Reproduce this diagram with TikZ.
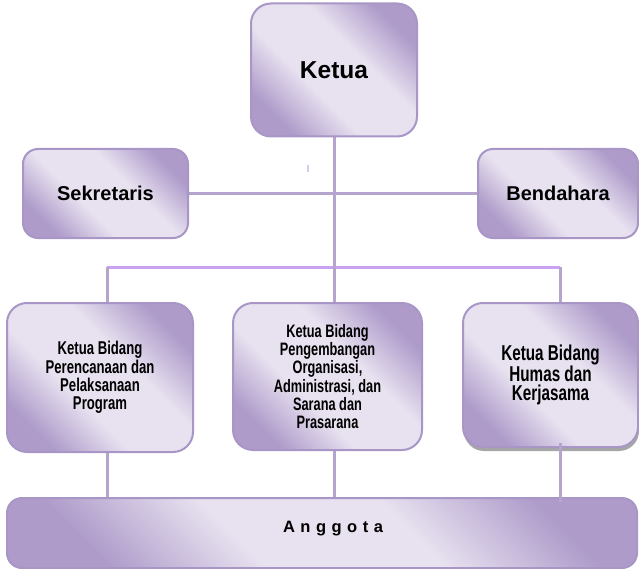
\documentclass[tikz,border=0pt]{standalone}
\usepackage{fontspec}
\setmainfont{Liberation Sans}
\newfontfamily\narrowfont[FakeStretch=0.71]{Liberation Sans}
\usepackage{tikz}
\usetikzlibrary{calc, backgrounds, shadows}
\usepackage{xcolor}
\definecolor{org-dark}{HTML}{AE9BCA}
\definecolor{org-light}{HTML}{E8E2F0}
\definecolor{org-border}{HTML}{A896C6}
\definecolor{org-link}{HTML}{B4A4CE}
\definecolor{org-bar}{HTML}{C9A3F2}
\definecolor{org-tick}{HTML}{D3CCE6}
\pgfdeclareverticalshading{orgband}{100bp}{color(0bp)=(org-dark); color(25bp)=(org-dark); color(41bp)=(org-light); color(59bp)=(org-light); color(75bp)=(org-dark); color(100bp)=(org-dark)}
\tikzset{
  orgbox/.style={draw=org-border, line width=2pt, shade, shading=orgband, shading angle=-45, align=center, inner sep=2pt, text=black},
  orglink/.style={draw=org-link, line width=3pt},
  orgbar/.style={draw=org-bar, line width=3pt},
}

\begin{document}
\begin{tikzpicture}[x=1pt, y=-1pt]
	\useasboundingbox (0,0) rectangle (639,569);

	\node[orgbox, rounded corners=20pt, minimum width=166pt, minimum height=133pt, font=\bfseries\fontsize{24.5}{28}\selectfont] at (334,70) (ketua) {Ketua};
	\node[orgbox, rounded corners=15pt, minimum width=165pt, minimum height=89pt, font=\bfseries\fontsize{20}{23}\selectfont] at (105.5,193.5) (sek) {Sekretaris};
	\node[orgbox, rounded corners=15pt, minimum width=160pt, minimum height=89pt, font=\bfseries\fontsize{20}{23}\selectfont] at (558,193.5) (bend) {Bendahara};

	\node[orgbox, rounded corners=20pt, minimum width=186pt, minimum height=149pt, font=\narrowfont\bfseries\fontsize{18.5}{18.3}\selectfont] at (100,377.5) (left) {Ketua Bidang\\Perencanaan dan\\Pelaksanaan\\Program};
	\node[orgbox, rounded corners=20pt, minimum width=189pt, minimum height=147pt, font=\narrowfont\bfseries\fontsize{18}{18.2}\selectfont] at (327.5,376.5) (mid) {Ketua Bidang\\Pengembangan\\Organisasi,\\Administrasi, dan\\Sarana dan\\Prasarana};
	\node[orgbox, rounded corners=20pt, minimum width=175pt, minimum height=144pt, font=\narrowfont\bfseries\fontsize{21.5}{19.5}\selectfont,
		drop shadow={shadow xshift=1pt, shadow yshift=-4pt, fill=gray!70, opacity=1}] at (550.5,375) (right) {Ketua Bidang\\Humas dan\\Kerjasama};

	\node[orgbox, rounded corners=15pt, minimum width=630pt, minimum height=70pt, text height=13pt, text depth=15pt, font=\bfseries\fontsize{16.5}{19}\selectfont] at (322,533) (anggota) {\hspace*{22pt}\spaceskip=5.5pt\relax A n g g o t a};

	\coordinate (barL) at (107,267);
	\coordinate (barR) at (560,267);

	\begin{scope}[on background layer]
		\draw[orglink] (sek.east) -- (bend.west);
		\draw[orgbar] (barL) -- (barR);
		\draw[orglink] (barL) -- (barL |- left.north);
		\draw[orglink] (barR) -- (barR |- right.north);
		\draw[orglink] (ketua.south) -- (ketua.south |- mid.north);
		\draw[orglink] (barL |- left.south) -- (barL |- anggota.north);
		\draw[orglink] (ketua.south |- mid.south) -- (ketua.south |- anggota.north);
	\end{scope}
	\draw[orglink] ($(barR |- right.south)+(0,-5)$) -- ($(barR |- anggota.north)+(0,5)$);

	\draw[org-tick, line width=1.5pt] (308,165) -- (308,172);
\end{tikzpicture}
\end{document}
